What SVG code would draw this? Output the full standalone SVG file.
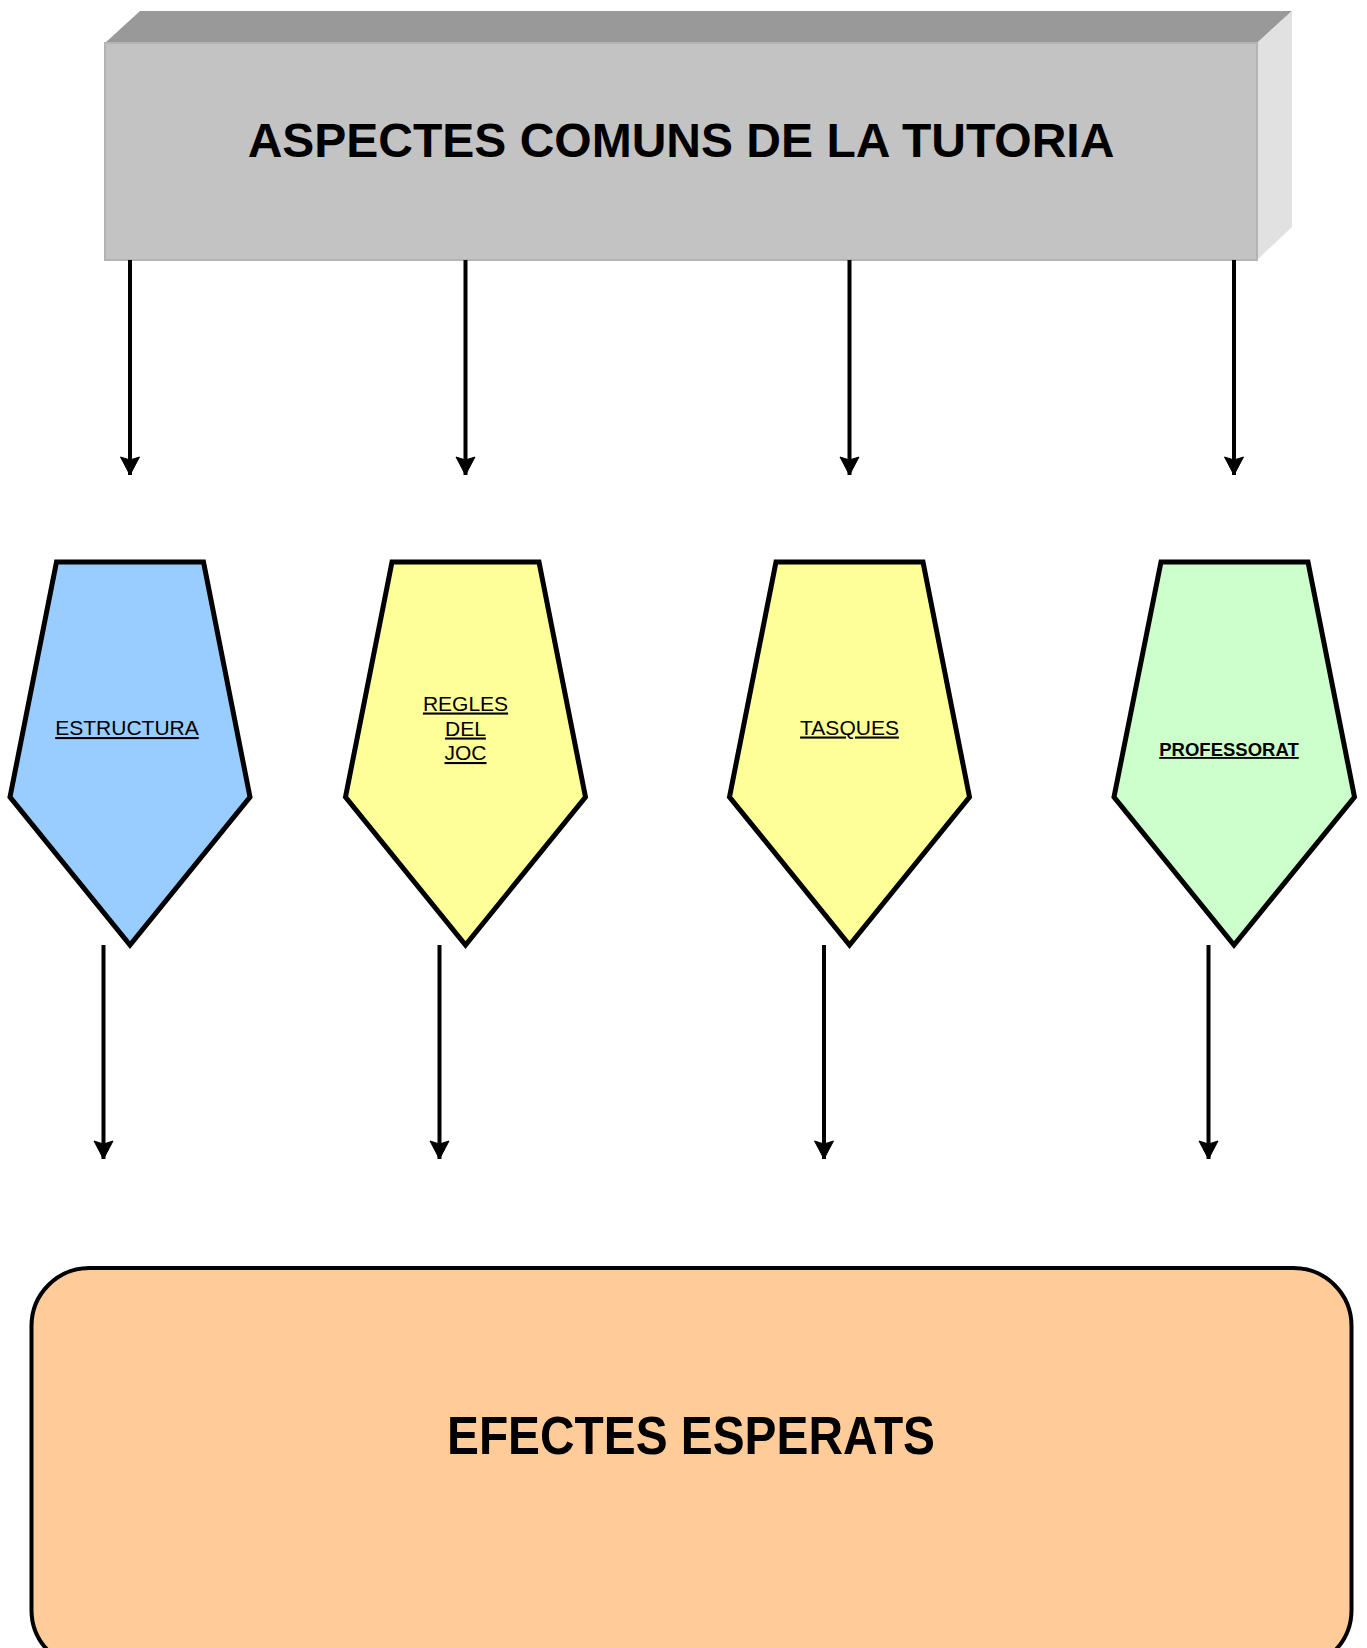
<svg xmlns="http://www.w3.org/2000/svg" width="1367" height="1648" viewBox="0 0 1367 1648">
  <style>
    .conn { stroke: #000; stroke-width: 4; fill: none; }
    .pent { stroke: #000; stroke-width: 5; stroke-linejoin: miter; }
    .lbl { font-family: "Liberation Sans", Arial, sans-serif; font-size: 21px; text-anchor: middle; text-decoration: underline; fill: #000; }
    .lblb { font-family: "Liberation Sans", Arial, sans-serif; font-size: 18.5px; font-weight: bold; text-anchor: middle; text-decoration: underline; fill: #000; }
    .big { font-family: "Liberation Sans", Arial, sans-serif; font-weight: bold; text-anchor: middle; fill: #000; }
  </style>
  <defs>
    <marker id="arr" markerUnits="userSpaceOnUse" markerWidth="26" markerHeight="26" viewBox="-22 -13 26 26" refX="0" refY="0" orient="auto">
      <path d="M0,0 L-18,-9.5 L-15,0 L-18,9.5 Z" fill="#000" stroke="#000" stroke-width="1" stroke-linejoin="miter"/>
    </marker>
  </defs>
  <rect width="1367" height="1648" fill="#fff"/>

  <g id="top-box">
    <polygon points="105,43 140,11 1292,11 1257,43" fill="#999999"/>
    <polygon points="1257,43 1292,11 1292,227 1257,260" fill="#E1E1E1"/>
    <rect x="105" y="43" width="1152" height="217" fill="#C3C3C3" stroke="#B4B4B4" stroke-width="2"/>
    <text class="big" x="681" y="156.5" font-size="48">ASPECTES COMUNS DE LA TUTORIA</text>
  </g>

  <g id="connectors">
    <line class="conn" x1="130" y1="260" x2="130" y2="475" marker-end="url(#arr)"/>
    <line class="conn" x1="465.5" y1="260" x2="465.5" y2="475" marker-end="url(#arr)"/>
    <line class="conn" x1="849.5" y1="260" x2="849.5" y2="475" marker-end="url(#arr)"/>
    <line class="conn" x1="1234" y1="260" x2="1234" y2="475" marker-end="url(#arr)"/>
    <line class="conn" x1="103.5" y1="945" x2="103.5" y2="1159" marker-end="url(#arr)"/>
    <line class="conn" x1="439.5" y1="945" x2="439.5" y2="1159" marker-end="url(#arr)"/>
    <line class="conn" x1="824" y1="945" x2="824" y2="1159" marker-end="url(#arr)"/>
    <line class="conn" x1="1208.5" y1="945" x2="1208.5" y2="1159" marker-end="url(#arr)"/>
  </g>

  <g id="estructura">
    <polygon class="pent" points="56.5,562 203.5,562 250,797 130,945 10,797" fill="#99CCFF"/>
    <text class="lbl" x="127" y="735">ESTRUCTURA</text>
  </g>

  <g id="regles-del-joc">
    <polygon class="pent" points="392,562 539,562 585.5,797 465.5,945 345.5,797" fill="#FFFF99"/>
    <text class="lbl" x="465.5" y="710.5">REGLES</text>
    <text class="lbl" x="465.5" y="735.5">DEL</text>
    <text class="lbl" x="465.5" y="760">JOC</text>
  </g>

  <g id="tasques">
    <polygon class="pent" points="776,562 923,562 969.5,797 849.5,945 729.5,797" fill="#FFFF99"/>
    <text class="lbl" x="849.5" y="734.5">TASQUES</text>
  </g>

  <g id="professorat">
    <polygon class="pent" points="1161,562 1308,562 1354.5,797 1234,945 1114,797" fill="#CCFFCC"/>
    <text class="lblb" x="1229" y="756">PROFESSORAT</text>
  </g>

  <g id="efectes-esperats">
    <rect x="31.5" y="1268" width="1320" height="400" rx="58" ry="58" fill="#FFCC99" stroke="#000" stroke-width="4"/>
    <text class="big" x="691" y="1454" font-size="54" textLength="488" lengthAdjust="spacingAndGlyphs">EFECTES ESPERATS</text>
  </g>
</svg>
